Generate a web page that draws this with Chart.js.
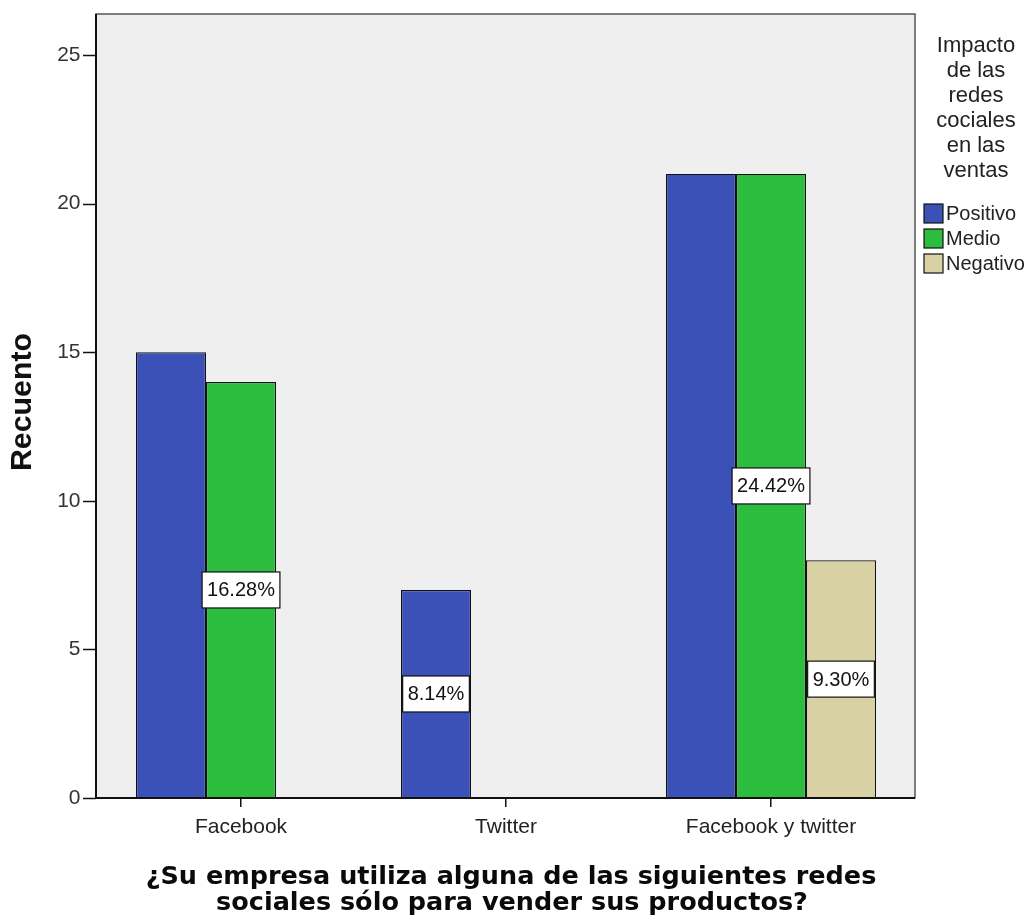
<!DOCTYPE html>
<html>
<head>
<meta charset="utf-8">
<script src="https://cdn.jsdelivr.net/npm/chart.js@4/dist/chart.umd.min.js"></script>
<style>
html,body{margin:0;padding:0;background:#fff;}
#wrap{position:relative;width:1035px;height:920px;}
</style>
</head>
<body>
<div id="wrap"><canvas id="c" width="1035" height="920"></canvas></div>
<script>
// ---- data ----
const categories = ['Facebook', 'Twitter', 'Facebook y twitter'];
const seriesNames = ['Positivo', 'Medio', 'Negativo'];
const positivo = [15, 7, 21];
const medio = [14, null, 21];
const negativo = [null, null, 8];
const labelsPositivo = [null, '8.14%', null];
const labelsMedio = ['16.28%', null, '24.42%'];
const labelsNegativo = [null, null, '9.30%'];
const yTicks = [0, 5, 10, 15, 20, 25];
const yMax = 26.38;
const yTitle = 'Recuento';
const xTitle = ['¿Su empresa utiliza alguna de las siguientes redes', 'sociales sólo para vender sus productos?'];
const legendTitle = ['Impacto', 'de las', 'redes', 'cociales', 'en las', 'ventas'];

const colors = ['#3b51b7', '#2cbd3e', '#d8d1a4'];
const barLabels = [labelsPositivo, labelsMedio, labelsNegativo];

const FRAME = {left: 96, right: 915, top: 14, bottom: 798};

function fitFont(ctx, text, weight, family, target) {
  ctx.font = weight + ' 20px ' + family;
  const w = ctx.measureText(text).width;
  return 20 * target / w;
}

const decor = {
  id: 'decor',
  beforeDraw(chart) {
    const ctx = chart.ctx;
    ctx.save();
    ctx.fillStyle = '#ffffff';
    ctx.fillRect(0, 0, chart.width, chart.height);
    ctx.fillStyle = '#efefef';
    ctx.fillRect(FRAME.left, FRAME.top, FRAME.right - FRAME.left, FRAME.bottom - FRAME.top);
    ctx.restore();
  },
  afterDatasetsDraw(chart) {
    const ctx = chart.ctx;
    const yScale = chart.scales.y;
    ctx.save();
    // frame
    ctx.strokeStyle = '#555';
    ctx.lineWidth = 1.5;
    ctx.strokeRect(FRAME.left, FRAME.top, FRAME.right - FRAME.left, FRAME.bottom - FRAME.top);
    ctx.strokeStyle = '#111';
    ctx.lineWidth = 2;
    ctx.beginPath();
    ctx.moveTo(FRAME.left, FRAME.top);
    ctx.lineTo(FRAME.left, FRAME.bottom);
    ctx.lineTo(FRAME.right, FRAME.bottom);
    ctx.stroke();
    // y tick marks
    ctx.lineWidth = 1.5;
    yTicks.forEach(v => {
      const y = Math.round(yScale.getPixelForValue(v)) + 0.5;
      ctx.beginPath();
      ctx.moveTo(FRAME.left - 13, y);
      ctx.lineTo(FRAME.left, y);
      ctx.stroke();
    });
    // bar value labels
    chart.data.datasets.forEach((ds, di) => {
      const meta = chart.getDatasetMeta(di);
      meta.data.forEach((bar, i) => {
        const txt = barLabels[di][i];
        if (!txt) return;
        const cx = bar.x;
        const cy = (bar.y + bar.base) / 2;
        ctx.font = '20px "Liberation Sans", Arial, sans-serif';
        const w = ctx.measureText(txt).width + 10;
        const h = 36;
        ctx.fillStyle = '#fff';
        ctx.fillRect(cx - w / 2, cy - h / 2, w, h);
        ctx.strokeStyle = '#111';
        ctx.lineWidth = 1.2;
        ctx.strokeRect(cx - w / 2, cy - h / 2, w, h);
        ctx.fillStyle = '#111';
        ctx.textAlign = 'center';
        ctx.textBaseline = 'middle';
        ctx.fillText(txt, cx, cy + 1);
      });
    });
    ctx.restore();
  },
  afterDraw(chart) {
    const ctx = chart.ctx;
    ctx.save();
    // y title
    const fsY = fitFont(ctx, yTitle, 'bold', '"Liberation Sans", Arial, sans-serif', 138);
    ctx.font = 'bold ' + fsY.toFixed(1) + 'px "Liberation Sans", Arial, sans-serif';
    ctx.fillStyle = '#111';
    ctx.translate(23, 402);
    ctx.rotate(-Math.PI / 2);
    ctx.textAlign = 'center';
    ctx.textBaseline = 'middle';
    ctx.fillText(yTitle, 0, 0);
    ctx.restore();

    ctx.save();
    // x title
    const fam = '"DejaVu Sans", Verdana, sans-serif';
    const fsX = fitFont(ctx, xTitle[0], 'bold', fam, 730);
    ctx.font = 'bold ' + fsX.toFixed(1) + 'px ' + fam;
    ctx.fillStyle = '#0a0a0a';
    ctx.textAlign = 'center';
    ctx.textBaseline = 'alphabetic';
    ctx.fillText(xTitle[0], 511, 884);
    ctx.fillText(xTitle[1], 512, 910);

    // legend title
    ctx.font = '22px "Liberation Sans", Arial, sans-serif';
    ctx.fillStyle = '#222';
    legendTitle.forEach((t, i) => {
      ctx.fillText(t, 976, 52 + i * 25);
    });
    // legend items
    ctx.textAlign = 'left';
    ctx.textBaseline = 'middle';
    ctx.font = '20px "Liberation Sans", Arial, sans-serif';
    chart.data.datasets.forEach((ds, i) => {
      const y = 213 + i * 25;
      ctx.fillStyle = ds.backgroundColor;
      ctx.fillRect(924, y - 9, 19, 19);
      ctx.strokeStyle = '#111';
      ctx.lineWidth = 1.2;
      ctx.strokeRect(924, y - 9, 19, 19);
      ctx.fillStyle = '#222';
      ctx.fillText(ds.label, 946, y + 1);
    });
    ctx.restore();
  }
};

new Chart(document.getElementById('c'), {
  type: 'bar',
  data: {
    labels: categories,
    datasets: [
      {label: seriesNames[0], data: positivo, backgroundColor: colors[0]},
      {label: seriesNames[1], data: medio, backgroundColor: colors[1]},
      {label: seriesNames[2], data: negativo, backgroundColor: colors[2]}
    ].map(d => Object.assign(d, {borderColor: '#111', borderWidth: 1.2, borderSkipped: 'start',
      categoryPercentage: 210 / 265, barPercentage: 1.0}))
  },
  options: {
    responsive: false,
    animation: false,
    events: [],
    layout: {padding: {top: 14, right: 131.5, bottom: 0, left: 0}},
    plugins: {legend: {display: false}, tooltip: {enabled: false}, title: {display: false}},
    scales: {
      x: {
        grid: {display: true, drawOnChartArea: false, drawTicks: true, tickLength: 9, offset: false, color: '#111', lineWidth: 1.5},
        border: {display: false},
        ticks: {color: '#222', font: {size: 21, family: '"Liberation Sans", Arial, sans-serif'}, padding: 8, maxRotation: 0},
        afterFit(scale) { scale.height = 122; scale.paddingLeft = 0; scale.paddingRight = 0; }
      },
      y: {
        min: 0, max: yMax,
        grid: {display: false, drawTicks: false},
        border: {display: false},
        ticks: {stepSize: 5, color: '#333', font: {size: 21, family: '"Liberation Sans", Arial, sans-serif'}, padding: 28},
        afterBuildTicks(scale) { scale.ticks = yTicks.map(v => ({value: v})); },
        afterFit(scale) { scale.width = 108.5; scale.paddingTop = 0; scale.paddingBottom = 0; }
      }
    }
  },
  plugins: [decor]
});
</script>
</body>
</html>
